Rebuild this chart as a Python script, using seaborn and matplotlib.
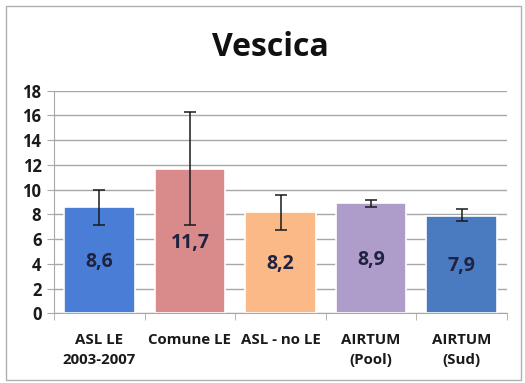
import matplotlib
matplotlib.use("Agg")
import matplotlib.pyplot as plt
import matplotlib.patches as mpatches
import numpy as np
import pandas as pd
import seaborn as sns

# data
categories = ["ASL LE\n2003-2007", "Comune LE", "ASL - no LE", "AIRTUM\n(Pool)", "AIRTUM\n(Sud)"]
values = [8.6, 11.7, 8.2, 8.9, 7.9]
err_low = [7.1, 7.1, 6.7, 8.6, 7.5]
err_high = [10.0, 16.3, 9.6, 9.2, 8.4]
bar_colors = ["#4A7ED6", "#D98B8C", "#FBB987", "#AE9CCB", "#4A7AC0"]

sns.set_style("white")
plt.rcParams["font.family"] = ["Open Sans", "DejaVu Sans"]

df = pd.DataFrame({"cat": categories, "val": values})

fig = plt.figure(figsize=(5.25, 3.83), dpi=100)
ax = fig.add_axes([54 / 525, 1 - 313.3 / 383, (507 - 54) / 525, (313.3 - 90.7) / 383])

sns.barplot(data=df, x="cat", y="val", hue="cat", palette=bar_colors, legend=False,
            saturation=1, width=0.78, edgecolor="white", linewidth=1.2, ax=ax, zorder=2)

# asymmetric error bars
x = np.arange(len(values))
yerr = [np.array(values) - np.array(err_low), np.array(err_high) - np.array(values)]
ax.errorbar(x, values, yerr=yerr, fmt="none", ecolor="#1a1a1a", elinewidth=1.1,
            capsize=4, capthick=1.1, zorder=3)

# value labels inside bars
for i, v in enumerate(values):
    ax.text(i, v / 2 - 0.15, f"{v:.1f}".replace(".", ","), ha="center", va="center",
            fontsize=14, fontweight="bold", color="#1F2240", zorder=4)

ax.set_ylim(0, 18)
ax.set_xlim(-0.5, len(values) - 0.5)
ax.set_yticks(range(0, 19, 2))
ax.yaxis.grid(True, color="#a8a8a8", linewidth=1.0, zorder=0)
ax.set_axisbelow(True)
ax.set_xlabel("")
ax.set_ylabel("")

for s in ["top", "right"]:
    ax.spines[s].set_visible(False)
ax.spines["left"].set_color("#a8a8a8")
ax.spines["bottom"].set_color("#a8a8a8")

ax.tick_params(axis="y", length=5, color="#a8a8a8", labelsize=12, pad=4, left=True)
ax.tick_params(axis="x", length=0, labelsize=10.8, pad=14)
for lab in ax.get_yticklabels():
    lab.set_fontweight("bold")
    lab.set_color("#1a1a1a")
for lab in ax.get_xticklabels():
    lab.set_fontweight("bold")
    lab.set_color("#1a1a1a")
    lab.set_linespacing(1.6)

# boundary ticks between categories
ax.set_xticks(np.arange(-0.5, len(values), 1.0), minor=True)
ax.tick_params(axis="x", which="minor", length=5, color="#a8a8a8", bottom=True)

fig.text(270 / 525, 1 - 47 / 383, "Vescica", ha="center", va="center",
         fontsize=23, fontweight="bold", color="#111111")

# outer chart border
fig.patches.append(mpatches.Rectangle((6 / 525, 3 / 383), 515 / 525, 374 / 383,
                                      transform=fig.transFigure, fill=False,
                                      edgecolor="#b0b0b0", linewidth=1.0))

fig.savefig("out.png", dpi=100)
